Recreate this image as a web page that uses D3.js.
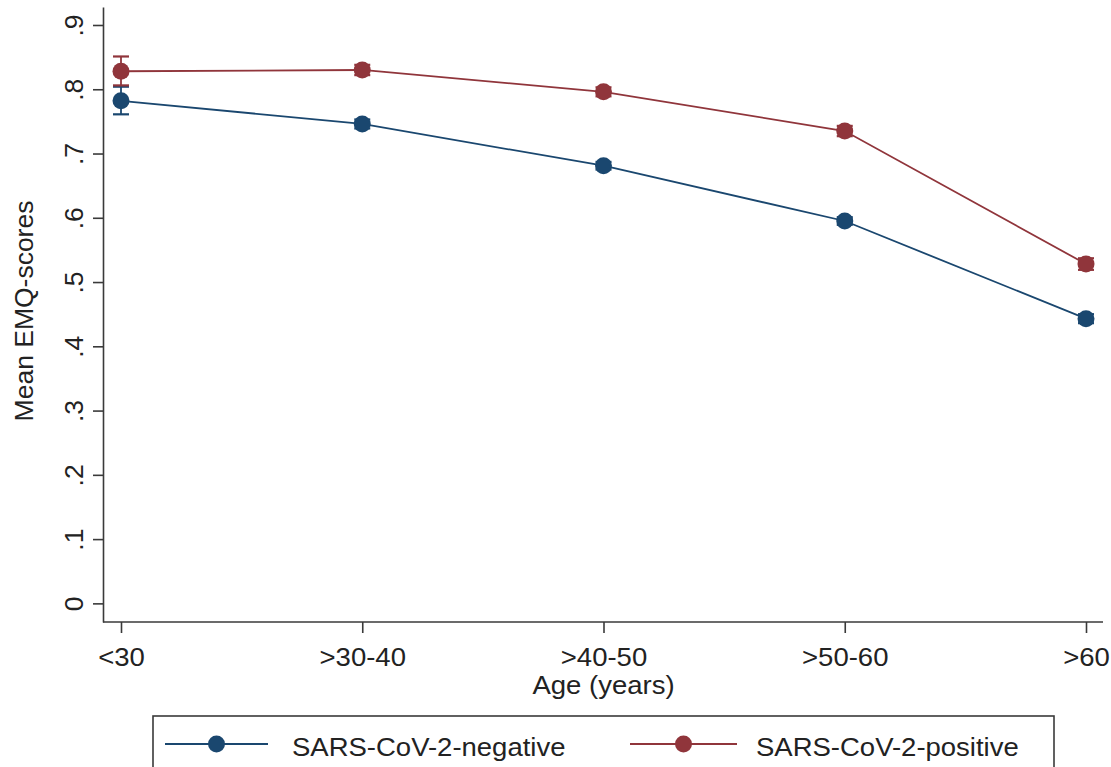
<!DOCTYPE html>
<html>
<head>
<meta charset="utf-8">
<script src="https://cdn.jsdelivr.net/npm/d3@7"></script>
<style>
  html, body { margin: 0; padding: 0; background: #fff; }
  svg { display: block; }
  text { font-family: "Liberation Sans", Arial, sans-serif; fill: #222; }
</style>
</head>
<body>
<svg id="chart" width="1111" height="767"></svg>
<script>
// ---- data ----
const categories = ["<30", ">30-40", ">40-50", ">50-60", ">60"];
const negMean = [0.782, 0.746, 0.681, 0.595, 0.443];
const negLo   = [0.761, 0.739, 0.675, 0.589, 0.436];
const negHi   = [0.804, 0.753, 0.687, 0.601, 0.450];
const posMean = [0.828, 0.830, 0.796, 0.735, 0.528];
const posLo   = [0.806, 0.822, 0.789, 0.727, 0.519];
const posHi   = [0.851, 0.838, 0.803, 0.743, 0.537];
const yTicks  = [0, 0.1, 0.2, 0.3, 0.4, 0.5, 0.6, 0.7, 0.8, 0.9];
const seriesNames = ["SARS-CoV-2-negative", "SARS-CoV-2-positive"];
const xTitle = "Age (years)";
const yTitle = "Mean EMQ-scores";

// ---- layout ----
const colors = ["#1a476f", "#90353b"];
const axisColor = "#3a3a3a";
const fontSize = 25;
const hStretch = 1.1;   // horizontal text stretch seen in reference
const vStretch = 1.06;  // stretch along rotated texts
const svg = d3.select("#chart");

const x = d3.scalePoint().domain(categories).range([121, 1086]);
const y = d3.scaleLinear().domain([-0.029, 0.928]).range([622, 7]);

const series = [
  { name: seriesNames[0], mean: negMean, lo: negLo, hi: negHi, color: colors[0] },
  { name: seriesNames[1], mean: posMean, lo: posLo, hi: posHi, color: colors[1] }
];

// Y axis
const fmt = d => d === 0 ? "0" : d3.format(".1f")(d).replace(/^0/, "");
const yAxis = svg.append("g").attr("transform", "translate(103,0)")
  .call(d3.axisLeft(y).tickValues(yTicks).tickFormat(fmt).tickSize(10).tickSizeOuter(0));
yAxis.select(".domain").attr("stroke", axisColor).attr("stroke-width", 1.6);
yAxis.selectAll(".tick line").attr("stroke", axisColor).attr("stroke-width", 1.6);
yAxis.selectAll(".tick text")
  .attr("x", null).attr("dy", null)
  .attr("transform", `translate(-20,0) rotate(-90) scale(${vStretch},1)`)
  .attr("text-anchor", "middle")
  .style("font-size", fontSize + "px")
  .style("font-family", '"Liberation Sans", Arial, sans-serif')
  .attr("fill", "#222");

// X axis
const xAxis = svg.append("g").attr("transform", "translate(0,622)")
  .call(d3.axisBottom(x).tickSize(11).tickSizeOuter(0));
xAxis.select(".domain").remove();
xAxis.selectAll(".tick line").attr("stroke", axisColor).attr("stroke-width", 1.6);
xAxis.selectAll(".tick text")
  .attr("y", null).attr("dy", null)
  .attr("transform", `translate(0,44) scale(${hStretch},1)`)
  .style("font-size", fontSize + "px")
  .style("font-family", '"Liberation Sans", Arial, sans-serif')
  .attr("fill", "#222");
svg.append("line")
  .attr("x1", 103).attr("x2", 1103).attr("y1", 622).attr("y2", 622)
  .attr("stroke", axisColor).attr("stroke-width", 1.6);

// Titles
svg.append("text")
  .attr("transform", `translate(${(x.range()[0] + x.range()[1]) / 2},694) scale(${hStretch},1)`)
  .attr("text-anchor", "middle")
  .style("font-size", fontSize + "px")
  .text(xTitle);
svg.append("text")
  .attr("transform", `translate(33,311) rotate(-90) scale(${vStretch},1)`)
  .attr("text-anchor", "middle")
  .style("font-size", fontSize + "px")
  .text(yTitle);

// Series
const line = d3.line().x((d, i) => x(categories[i])).y(d => y(d));
series.forEach(s => {
  const g = svg.append("g");
  g.append("path")
    .datum(s.mean)
    .attr("d", line)
    .attr("fill", "none")
    .attr("stroke", s.color)
    .attr("stroke-width", 1.8);
  // error bars
  categories.forEach((c, i) => {
    const cx = x(c);
    g.append("line").attr("x1", cx).attr("x2", cx)
      .attr("y1", y(s.lo[i])).attr("y2", y(s.hi[i]))
      .attr("stroke", s.color).attr("stroke-width", 1.8);
    [s.lo[i], s.hi[i]].forEach(v => {
      g.append("line").attr("x1", cx - 8).attr("x2", cx + 8)
        .attr("y1", y(v)).attr("y2", y(v))
        .attr("stroke", s.color).attr("stroke-width", 2.2);
    });
  });
  g.selectAll("circle.pt").data(s.mean).enter().append("circle")
    .attr("class", "pt")
    .attr("cx", (d, i) => x(categories[i]))
    .attr("cy", d => y(d))
    .attr("r", 8.5)
    .attr("fill", s.color);
});

// Legend
svg.append("rect")
  .attr("x", 153).attr("y", 716).attr("width", 901).attr("height", 70)
  .attr("fill", "none").attr("stroke", axisColor).attr("stroke-width", 1.6);
const legendItems = [
  { x0: 165, x1: 268, tx: 292 },
  { x0: 630, x1: 737, tx: 756 }
];
series.forEach((s, i) => {
  const li = legendItems[i];
  const lg = svg.append("g");
  lg.append("line").attr("x1", li.x0).attr("x2", li.x1).attr("y1", 744).attr("y2", 744)
    .attr("stroke", s.color).attr("stroke-width", 1.8);
  lg.append("circle").attr("cx", (li.x0 + li.x1) / 2).attr("cy", 744).attr("r", 8.5)
    .attr("fill", s.color);
  lg.append("text")
    .attr("transform", `translate(${li.tx},756) scale(${hStretch},1)`)
    .style("font-size", fontSize + "px")
    .text(s.name);
});
</script>
</body>
</html>
